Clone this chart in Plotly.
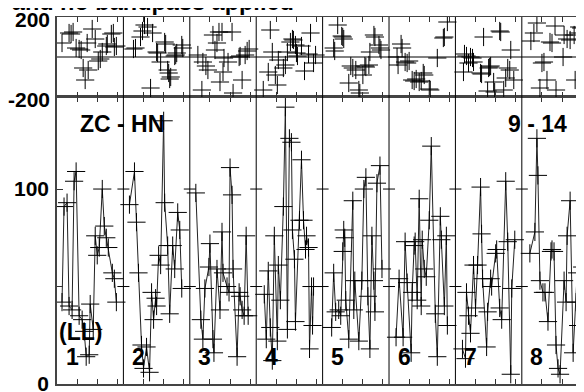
import plotly.graph_objects as go

# panel width in time units, ticks at 1,2,3 inside each panel
PANEL = 3.3
n_panels = 8
panel_labels = ["1", "2", "3", "4", "5", "6", "7", "8"]

# bottom panel: per segment times (within segment) and values
bot_t = [
    [0.25,0.35,0.5,0.6,0.75,0.85,0.95,1.1,1.25,1.35,1.45,1.6,1.65,1.8,1.9,2.0,2.1,2.25,2.35,2.45,2.55,2.75,2.85,2.95],
    [0.3,0.55,0.65,0.75,0.9,1.0,1.15,1.3,1.4,1.5,1.6,1.65,1.75,1.85,2.0,2.05,2.2,2.3,2.45,2.55,2.7,2.8,2.9],
    [0.3,0.55,0.65,0.75,0.95,1.0,1.15,1.2,1.35,1.5,1.6,1.65,1.85,1.95,2.0,2.1,2.15,2.35,2.45,2.5,2.6,2.7,2.8,2.9],
    [0.4,0.5,0.6,0.7,0.8,0.9,1.05,1.1,1.2,1.35,1.45,1.55,1.65,1.75,1.8,1.9,1.95,2.15,2.25,2.35,2.45,2.5,2.6,2.65,2.75,2.8,2.85],
    [0.45,0.55,0.65,0.8,0.9,1.0,1.05,1.1,1.15,1.3,1.5,1.55,1.6,1.8,1.95,2.05,2.15,2.25,2.35,2.45,2.55,2.6,2.7,2.85,2.95],
    [0.35,0.5,0.7,0.8,0.9,1.1,1.15,1.25,1.3,1.4,1.5,1.6,1.65,1.75,1.85,2.0,2.1,2.3,2.4,2.55,2.6,2.75,2.85,2.9],
    [0.35,0.5,0.55,0.65,0.75,0.9,1.0,1.1,1.25,1.3,1.35,1.55,1.6,1.75,1.8,2.0,2.05,2.2,2.3,2.5,2.6,2.75,2.8,2.95],
    [0.4,0.65,0.75,0.8,0.9,1.05,1.15,1.3,1.45,1.5,1.6,1.7,1.8,1.9,2.1,2.2,2.25,2.4,2.55,2.7,2.75,2.8,3.0,3.2],
]
bot_v = [
    [42,91,93,40,38,104,109,35,33,27,14,15,41,28,76,66,70,100,81,75,70,57,54,42],
    [92,109,83,57,20,8,19,6,47,33,44,40,66,61,135,93,71,36,71,59,88,79,49],
    [98,33,23,49,60,72,23,16,59,38,78,57,50,47,111,97,59,14,47,45,38,35,76,35],
    [46,23,58,29,12,76,22,61,43,91,142,28,126,124,79,64,32,84,115,84,69,76,70,18,50,30,50],
    [29,57,37,38,35,68,79,75,43,23,94,38,53,22,53,100,106,45,18,76,53,37,103,112,59],
    [24,54,24,73,52,16,47,71,73,43,95,40,74,59,55,84,122,36,14,86,74,40,76,30],
    [18,13,47,35,26,61,39,61,101,77,54,19,37,54,50,67,69,39,33,104,73,5,49,74],
    [67,78,126,107,53,47,47,32,68,69,68,20,8,5,53,42,76,94,16,42,57,30,60,45],
]

# top panel: scatter only
top_t = [
    [0.25,0.6,0.7,0.8,0.95,1.1,1.2,1.3,1.4,1.5,1.55,1.75,1.9,2.05,2.15,2.25,2.45,2.5,2.7,2.8,2.85,2.95],
    [0.5,0.6,0.85,0.95,1.05,1.2,1.35,1.45,1.65,1.7,1.85,2.05,2.1,2.2,2.25,2.3,2.35,2.55,2.6,2.65,2.9,2.95],
    [0.4,0.6,0.65,0.8,0.9,1.15,1.25,1.35,1.45,1.5,1.6,1.65,1.7,1.9,2.1,2.15,2.45,2.5,2.6,2.75,2.85,2.95],
    [0.35,0.6,0.7,0.8,0.95,1.05,1.1,1.35,1.45,1.55,1.7,1.8,1.85,1.95,2.0,2.05,2.25,2.4,2.6,2.7,2.85,2.95],
    [0.55,0.6,0.75,0.95,1.0,1.05,1.3,1.4,1.5,1.65,1.8,1.85,2.0,2.1,2.15,2.3,2.35,2.55,2.6,2.8,2.85,2.9],
    [0.4,0.45,0.6,0.65,0.8,0.9,1.0,1.15,1.25,1.35,1.5,1.6,1.7,1.75,2.0,2.05,2.4,2.7,2.75,2.9],
    [0.4,0.45,0.55,0.65,0.75,0.85,0.9,1.25,1.3,1.4,1.6,1.65,1.7,1.75,1.9,1.95,2.2,2.25,2.4,2.5,2.6,2.7,2.75,2.9],
    [0.45,0.6,0.75,0.9,1.0,1.1,1.25,1.4,1.5,1.65,1.7,2.05,2.1,2.25,2.4,2.6,2.65,2.8,2.85,2.95],
]
top_v = [
    [70,120,115,125,45,40,35,-55,-115,70,-65,140,90,-20,-10,25,55,65,115,120,50,55],
    [40,45,100,130,160,150,-155,120,25,20,-25,75,65,-65,-80,-110,-100,5,10,20,60,45],
    [10,-165,-25,-45,-65,110,35,70,125,-125,125,-75,-5,-25,125,-180,0,5,-115,10,30,40],
    [-165,-75,135,25,-90,-140,-15,-55,-40,25,75,90,85,60,20,5,55,-70,15,120,-30,10],
    [45,30,160,105,100,90,-130,-45,-55,-65,-165,-180,-90,-45,-50,-40,25,110,100,60,45,35],
    [0,-40,65,45,-25,-30,-20,-115,-120,-110,-125,-120,-80,-90,-160,-165,-5,95,100,175],
    [-75,15,5,-30,0,-5,-25,-80,-85,100,-170,-55,-50,-45,-125,-175,130,125,-165,-105,-55,-65,35,-115],
    [80,120,170,-155,-30,-25,-115,75,70,155,-165,0,110,90,85,110,-115,120,150,145],
]

FONT = "Liberation Sans, Arial, sans-serif"
cross = dict(symbol="cross-thin", size=13, line=dict(color="black", width=1))

fig = go.Figure()

bx, by = [], []
for k in range(n_panels):
    bx += [PANEL * k + t for t in bot_t[k]] + [None]
    by += bot_v[k] + [None]
fig.add_trace(go.Scatter(x=bx, y=by, mode="lines+markers", xaxis="x", yaxis="y",
                         line=dict(color="#222", width=1), marker=cross,
                         connectgaps=False, showlegend=False))

tx, ty = [], []
for k in range(n_panels):
    tx += [PANEL * k + t for t in top_t[k]]
    ty += top_v[k]
fig.add_trace(go.Scatter(x=tx, y=ty, mode="markers", xaxis="x2", yaxis="y2",
                         marker=cross, showlegend=False))

x_max = 26.19
tickv = [PANEL * k + j for k in range(n_panels) for j in (1, 2, 3)]
split = 0.782

shapes = []
for k in range(1, n_panels):
    shapes.append(dict(type="line", xref="x", yref="paper", x0=PANEL * k, x1=PANEL * k,
                       y0=0, y1=1, line=dict(color="black", width=1)))
    for yv in (50, 100):
        shapes.append(dict(type="line", xref="x", yref="y", xsizemode="pixel", xanchor=PANEL * k,
                           x0=-6, x1=6, y0=yv, y1=yv, line=dict(color="black", width=1)))
# zero line in the top strip
shapes.append(dict(type="line", xref="paper", yref="y2", x0=0, x1=1, y0=0, y1=0,
                   line=dict(color="black", width=1)))

lab_font = dict(size=23, color="black", family=FONT)
ann = []
for k in range(n_panels):
    ann.append(dict(x=PANEL * k + 0.75, y=14, xref="x", yref="y", text="<b>%s</b>" % panel_labels[k],
                    showarrow=False, font=lab_font))
ann.append(dict(x=1.18, y=26.5, xref="x", yref="y", text="<b>(LL)</b>", showarrow=False, font=lab_font))
ann.append(dict(x=3.24, y=133.6, xref="x", yref="y", text="<b>ZC - HN</b>", showarrow=False, font=lab_font))
ann.append(dict(x=23.86, y=133.6, xref="x", yref="y", text="<b>9 - 14</b>", showarrow=False, font=lab_font))
ann.append(dict(x=0.4535, y=0.999, xref="paper", yref="paper", xanchor="right", yanchor="bottom",
                text="<b>Not detrended and no bandpass applied</b>", showarrow=False,
                font=dict(size=23.5, color="black", family=FONT)))

axis_common = dict(showgrid=False, zeroline=False, showline=True, linecolor="#444", automargin=False)
tick_font = dict(size=21, weight="bold", family=FONT, color="black")
# page body adds an 8px offset, so margins are shifted by that much
fig.update_layout(
    width=584, height=392,
    margin=dict(l=49, r=8, t=9, b=16),
    paper_bgcolor="white", plot_bgcolor="white",
    font=dict(family=FONT, color="black"),
    xaxis=dict(range=[0, x_max], domain=[0, 1], anchor="y", tickvals=tickv, ticks="inside",
               ticklen=5, tickcolor="#333", showticklabels=False, mirror="ticks", linewidth=1.5,
               **axis_common),
    xaxis2=dict(range=[0, x_max], domain=[0, 1], anchor="y2", tickvals=tickv, ticks="inside",
                ticklen=5, tickcolor="#333", showticklabels=False, mirror="ticks", linewidth=1,
                **axis_common),
    yaxis=dict(range=[0, 147.2], domain=[0, split], anchor="x", tickvals=[0, 50, 100],
               ticktext=["0", "", "100"], ticks="inside", ticklen=6, tickcolor="#333",
               tickfont=tick_font, ticklabelstandoff=2, ticklabeloverflow="allow",
               linewidth=1.5, **axis_common),
    yaxis2=dict(range=[-200, 200], domain=[split, 1], anchor="x2", tickvals=[-200, 200],
                ticktext=["-200", "200"], ticks="", tickfont=tick_font, ticklabelstandoff=1,
                ticklabelshift=3, ticklabeloverflow="allow", linewidth=1.5, **axis_common),
    shapes=shapes, annotations=ann,
)

fig.write_html("out.html")
